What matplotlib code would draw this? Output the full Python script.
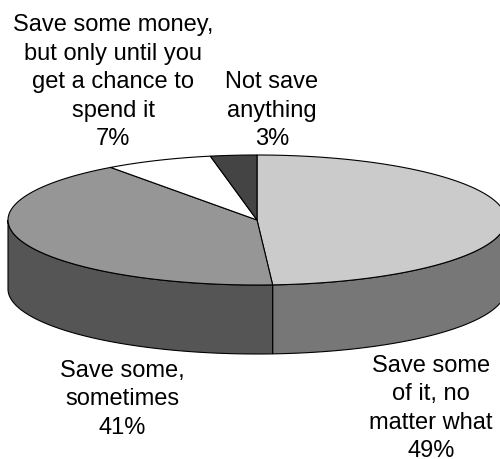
import numpy as np
import matplotlib
matplotlib.use("Agg")
import matplotlib.pyplot as plt
from matplotlib.patches import Polygon

labels = ["Save some\nof it, no\nmatter what",
          "Save some,\nsometimes",
          "Save some money,\nbut only until you\nget a chance to\nspend it",
          "Not save\nanything"]
values = [49, 41, 7, 3]
top_colors = ["#cbcbcb", "#969696", "#ffffff", "#444444"]
side_colors = ["#777777", "#555555", "#dddddd", "#333333"]

fig = plt.figure(figsize=(5.0, 4.59), dpi=100)
ax = fig.add_axes([0, 0, 1, 1])
ax.set_xlim(0, 500)
ax.set_ylim(459, 0)
ax.axis("off")

cx, cy, rx, ry, depth = 257, 220, 249, 65, 69


def pt(theta_deg, dy=0.0):
    t = np.radians(theta_deg)
    return cx + rx * np.sin(t), cy - ry * np.cos(t) + dy


total = sum(values)
angles = np.concatenate([[0], np.cumsum(values) / total * 360.0])

# sides (front half only: 90..270 deg)
for i in range(len(values)):
    a, b = angles[i], angles[i + 1]
    lo, hi = max(a, 90), min(b, 270)
    if hi <= lo:
        continue
    ts = np.linspace(lo, hi, 100)
    topx, topy = pt(ts)
    botx, boty = pt(ts[::-1], depth)
    xs = np.concatenate([topx, botx])
    ys = np.concatenate([topy, boty])
    ax.add_patch(Polygon(np.column_stack([xs, ys]), closed=True,
                         facecolor=side_colors[i], edgecolor="black", lw=0.8))

# tops
for i in range(len(values)):
    a, b = angles[i], angles[i + 1]
    ts = np.linspace(a, b, 200)
    ex, ey = pt(ts)
    xs = np.concatenate([[cx], ex])
    ys = np.concatenate([[cy], ey])
    ax.add_patch(Polygon(np.column_stack([xs, ys]), closed=True,
                         facecolor=top_colors[i], edgecolor="black", lw=0.8))

font = dict(family="Liberation Sans", fontsize=17, ha="center",
            linespacing=1.38, color="black")
pos = [(431, 355, "top"), (122, 360, "top"), (113, 150, "bottom"), (272, 150, "bottom")]
for (x, y, va), lab, v in zip(pos, labels, values):
    ax.text(x, y, f"{lab}\n{v}%", va=va, **font)

fig.savefig("out.png", dpi=100)
